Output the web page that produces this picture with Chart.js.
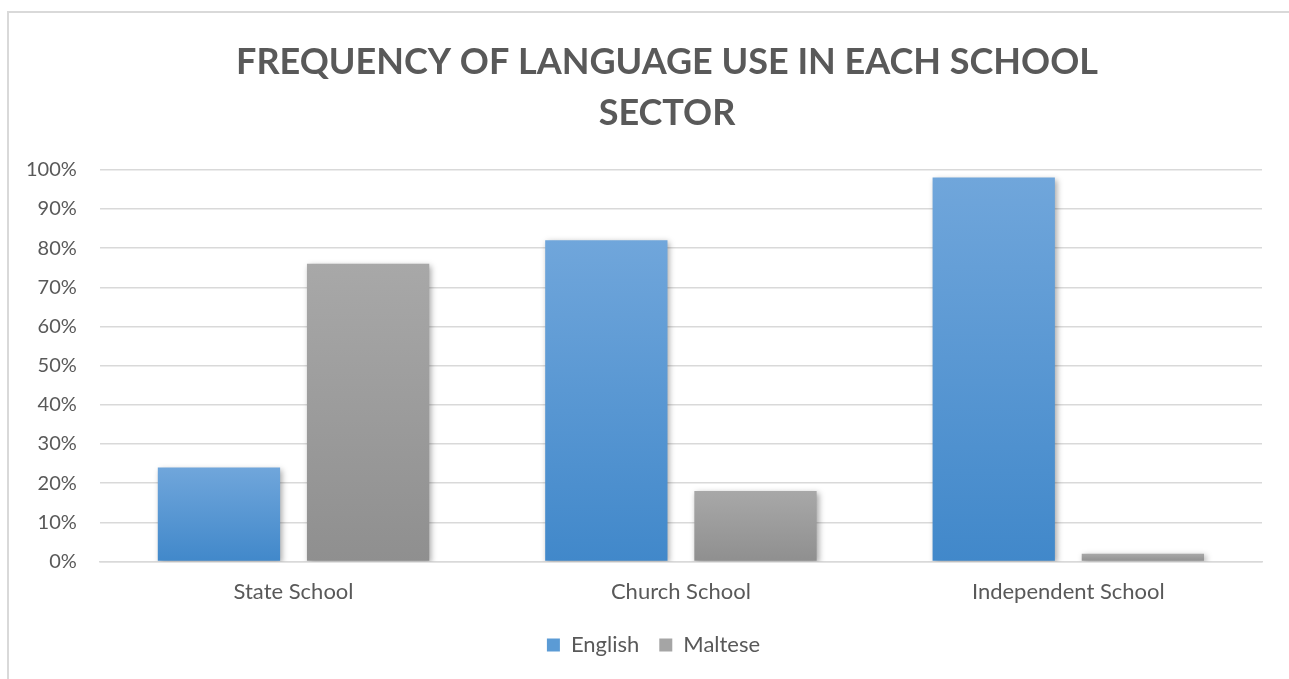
<!DOCTYPE html>
<html>
<head>
<meta charset="utf-8">
<title>Language use by school sector</title>
<script src="https://cdn.jsdelivr.net/npm/chart.js@4/dist/chart.umd.min.js"></script>
<style>
  html, body { margin: 0; padding: 0; background: #fff; overflow: hidden; }
  #wrap { position: relative; width: 1289px; height: 679px; overflow: hidden; }
</style>
</head>
<body>
<div id="wrap"><canvas id="langChart" width="1289" height="679"></canvas></div>
<script>
// school sectors and the share (%) of each language
let sectors = ['State School', 'Church School', 'Independent School'];
let english = [24, 82, 98];
let maltese = [76, 18, 2];
let yTicks = ['0%', '10%', '20%', '30%', '40%', '50%', '60%', '70%', '80%', '90%', '100%'];

const FONT = 'Lato, "Open Sans", sans-serif';
const TEXT = '#595959';
const GRID = '#d9d9d9';

// vertical gradient running from the top of each bar down to the axis
function barFill(top, bottom, solid) {
    return function (ctx) {
        let chart = ctx.chart;
        if (ctx.type !== 'data' || !chart.chartArea) return solid;
        let y = chart.scales.y;
        let yTop = y.getPixelForValue(ctx.raw);
        let yBase = y.getPixelForValue(0);
        if (yBase - yTop < 1) return solid;
        let g = chart.ctx.createLinearGradient(0, yTop, 0, yBase);
        g.addColorStop(0, top);
        g.addColorStop(1, bottom);
        return g;
    };
}

// thin grey frame around the chart, soft shadows under the bars,
// and the title / legend nudged to the right of the plot centre
const frame = {
    id: 'frame',
    afterLayout(chart) {
        chart.titleBlock.left += 34.5;
        chart.titleBlock.right += 34.5;
        chart.legend.left += 21;
        chart.legend.right += 21;
    },
    beforeDraw(chart) {
        let c = chart.ctx;
        c.save();
        c.fillStyle = '#fff';
        c.fillRect(0, 0, chart.width, chart.height);
        c.strokeStyle = GRID;
        c.lineWidth = 2;
        c.strokeRect(8, 12, chart.width + 50, chart.height + 50);
        c.restore();
    },
    beforeDatasetsDraw(chart) {
        let c = chart.ctx;
        c.save();
        c.shadowColor = 'rgba(0,0,0,0.35)';
        c.shadowBlur = 6;
        c.shadowOffsetX = 2;
        c.shadowOffsetY = 2;
    },
    afterDatasetsDraw(chart) {
        chart.ctx.restore();
    }
};

let langChart = new Chart(document.getElementById('langChart').getContext('2d'), {
    type: 'bar',
    data: {
        labels: sectors,
        datasets: [{
            label: 'English',
            data: english,
            backgroundColor: barFill('#70a6db', '#4188ca', '#5b9bd5'),
            categoryPercentage: 0.77,
            barPercentage: 0.82
        }, {
            label: 'Maltese',
            data: maltese,
            backgroundColor: barFill('#a8a8a8', '#8f8f8f', '#a5a5a5'),
            categoryPercentage: 0.77,
            barPercentage: 0.82
        }]
    },
    plugins: [frame],
    options: {
        responsive: false,
        animation: false,
        layout: { padding: { left: 3, right: 27, top: 28, bottom: 13 } },
        plugins: {
            title: {
                display: true,
                text: ['FREQUENCY OF LANGUAGE USE IN EACH SCHOOL', 'SECTOR'],
                color: TEXT,
                font: { family: FONT, size: 36, weight: 'bold', lineHeight: 1.44 },
                padding: { top: 8, bottom: 30 }
            },
            legend: {
                position: 'bottom',
                labels: {
                    color: TEXT,
                    font: { family: FONT, size: 22 },
                    boxWidth: 13,
                    boxHeight: 13,
                    padding: 20,
                    generateLabels(chart) {
                        return chart.data.datasets.map((ds, i) => ({
                            text: ds.label,
                            fillStyle: i === 0 ? '#5b9bd5' : '#a5a5a5',
                            strokeStyle: 'rgba(0,0,0,0)',
                            lineWidth: 0,
                            datasetIndex: i,
                            fontColor: TEXT
                        }));
                    }
                }
            },
            tooltip: { enabled: false }
        },
        scales: {
            x: {
                grid: { display: false },
                border: { color: GRID, width: 1.5 },
                ticks: { color: TEXT, font: { family: FONT, size: 22 }, padding: 9 }
            },
            y: {
                min: 0,
                max: 100,
                grid: { color: GRID, lineWidth: 1.5, drawTicks: false },
                border: { display: false },
                ticks: {
                    stepSize: 10,
                    color: TEXT,
                    font: { family: FONT, size: 20 },
                    padding: 23,
                    callback: (v) => yTicks[Math.round(v / 10)]
                }
            }
        }
    }
});
</script>
</body>
</html>
